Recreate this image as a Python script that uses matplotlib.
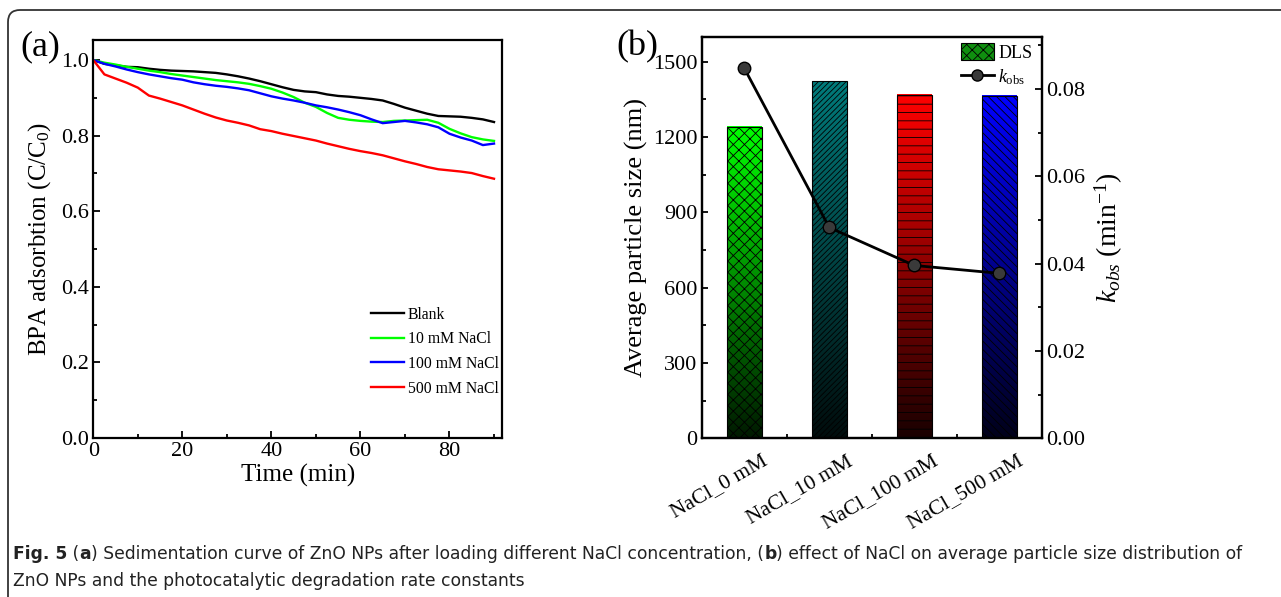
import numpy as np
import matplotlib.pyplot as plt
from matplotlib.ticker import MultipleLocator
from matplotlib.patches import Patch, FancyBboxPatch
from matplotlib.lines import Line2D
from matplotlib.transforms import IdentityTransform
from matplotlib.colors import to_rgb

plt.rcParams['font.family'] = ['Liberation Serif', 'DejaVu Serif']
plt.rcParams['mathtext.fontset'] = 'custom'
plt.rcParams['mathtext.rm'] = 'Liberation Serif'
plt.rcParams['mathtext.it'] = 'Liberation Serif:italic'
plt.rcParams['hatch.linewidth'] = 0.6

# ---- panel (a): sedimentation curves ----
time_min = [0, 2.5, 5, 7.5, 10, 12.5, 15, 17.5, 20, 22.5, 25, 27.5, 30, 32.5,
            35, 37.5, 40, 42.5, 45, 47.5, 50, 52.5, 55, 57.5, 60, 62.5, 65,
            67.5, 70, 72.5, 75, 77.5, 80, 82.5, 85, 87.5, 90]
blank = [1.000, 0.990, 0.986, 0.982, 0.981, 0.977, 0.974, 0.972, 0.971, 0.970,
         0.968, 0.966, 0.962, 0.957, 0.951, 0.944, 0.936, 0.928, 0.921, 0.917,
         0.915, 0.909, 0.905, 0.903, 0.900, 0.897, 0.893, 0.884, 0.874, 0.866,
         0.858, 0.852, 0.851, 0.850, 0.847, 0.843, 0.836]
nacl_10 = [1.000, 0.993, 0.988, 0.982, 0.977, 0.972, 0.968, 0.963, 0.959, 0.955,
           0.951, 0.947, 0.944, 0.941, 0.937, 0.931, 0.924, 0.914, 0.902, 0.887,
           0.876, 0.860, 0.847, 0.842, 0.839, 0.837, 0.836, 0.839, 0.840, 0.841,
           0.842, 0.834, 0.818, 0.806, 0.796, 0.790, 0.786]
nacl_100 = [1.000, 0.990, 0.983, 0.975, 0.968, 0.962, 0.957, 0.952, 0.948, 0.941,
            0.936, 0.932, 0.929, 0.925, 0.920, 0.912, 0.904, 0.898, 0.893, 0.887,
            0.880, 0.875, 0.869, 0.862, 0.854, 0.843, 0.833, 0.836, 0.839, 0.835,
            0.830, 0.822, 0.805, 0.795, 0.787, 0.775, 0.779]
nacl_500 = [1.000, 0.962, 0.951, 0.940, 0.927, 0.906, 0.898, 0.889, 0.880, 0.869,
            0.858, 0.848, 0.840, 0.834, 0.827, 0.817, 0.812, 0.805, 0.799, 0.793,
            0.787, 0.779, 0.772, 0.765, 0.759, 0.754, 0.748, 0.740, 0.732, 0.725,
            0.717, 0.711, 0.708, 0.705, 0.701, 0.693, 0.686]

# ---- panel (b): particle size and rate constants ----
samples = ['NaCl_0 mM', 'NaCl_10 mM', 'NaCl_100 mM', 'NaCl_500 mM']
particle_size = [1240, 1422, 1367, 1363]
k_obs = [0.0848, 0.0483, 0.0396, 0.0378]
bar_colors = ['#00ff00', '#007b7b', '#ff0000', '#0000ff']
bar_hatches = ['xxx', '//////', '--', '\\\\\\\\']

fig = plt.figure(figsize=(12.81, 5.97), dpi=100)

# rounded frame (top + left only visible)
frame = FancyBboxPatch((8, -50), 1400, 597 - 10 + 50,
                       boxstyle='round,pad=0,rounding_size=12',
                       transform=IdentityTransform(), fill=False,
                       edgecolor='#333333', linewidth=1.3)
fig.add_artist(frame)

tick_kw = dict(direction='in', width=1.3)

# ---------- (a) ----------
ax1 = fig.add_axes([0.0728, 0.2663, 0.3191, 0.6667])
ax1.plot(time_min, blank, color='black', lw=1.7, label='Blank')
ax1.plot(time_min, nacl_10, color='#00ff00', lw=1.7, label='10 mM NaCl')
ax1.plot(time_min, nacl_100, color='#0000ff', lw=1.7, label='100 mM NaCl')
ax1.plot(time_min, nacl_500, color='#ff0000', lw=1.7, label='500 mM NaCl')
ax1.set_xlim(0, 91.8)
ax1.set_ylim(0, 1.053)
ax1.xaxis.set_major_locator(MultipleLocator(20))
ax1.xaxis.set_minor_locator(MultipleLocator(10))
ax1.yaxis.set_major_locator(MultipleLocator(0.2))
ax1.yaxis.set_minor_locator(MultipleLocator(0.1))
ax1.yaxis.set_major_formatter(plt.FormatStrFormatter('%.1f'))
ax1.tick_params(which='major', length=5, labelsize=16, pad=3, **tick_kw)
ax1.tick_params(which='minor', length=3, **tick_kw)
ax1.set_xlabel('Time (min)', fontsize=18, labelpad=2)
ax1.set_ylabel('BPA adsorbtion (C/C$_0$)', fontsize=18, labelpad=6)
for s in ax1.spines.values():
    s.set_linewidth(1.6)
ax1.legend(loc='upper left', bbox_to_anchor=(0.679, 0.33), frameon=False,
           fontsize=11.3, handlelength=2.1, handletextpad=0.25,
           labelspacing=0.55, borderpad=0, borderaxespad=0)

# ---------- (b) ----------
ax2 = fig.add_axes([0.5478, 0.2658, 0.2654, 0.6727])
x = np.arange(len(samples))
bar_w = 0.41
bars = ax2.bar(x, particle_size, width=bar_w, facecolor='none',
               edgecolor='black', linewidth=0.8, zorder=3)
for rect, col, hatch in zip(bars, bar_colors, bar_hatches):
    rgb = np.array(to_rgb(col))
    f = np.linspace(0.1, 1.0, 256)[:, None, None]
    grad = f * rgb[None, None, :]
    x0 = rect.get_x()
    ax2.imshow(grad, extent=(x0, x0 + rect.get_width(), 0, rect.get_height()),
               origin='lower', aspect='auto', zorder=2, interpolation='bilinear')
    rect.set_hatch(hatch)
ax2.set_xlim(-0.5, 3.5)
ax2.set_ylim(0, 1600)
ax2.set_aspect('auto')
ax2.yaxis.set_major_locator(MultipleLocator(300))
ax2.yaxis.set_minor_locator(MultipleLocator(150))
ax2.set_xticks(x)
ax2.set_xticks(x[:-1] + 0.5, minor=True)
ax2.set_xticklabels([])
# rotated category labels, shifted right of their ticks as in the original
for xi, name in zip(x, samples):
    ax2.annotate(name, xy=(xi, 0), xycoords=('data', 'axes fraction'),
                 xytext=(12.5, -9.5), textcoords='offset points',
                 rotation=30, ha='right', va='top', rotation_mode='anchor',
                 fontsize=15.5, annotation_clip=False)
ax2.tick_params(which='major', length=4, labelsize=16, pad=3, **tick_kw)
ax2.tick_params(which='minor', length=3, **tick_kw)
ax2.set_ylabel('Average particle size (nm)', fontsize=19, labelpad=4)
for s in ax2.spines.values():
    s.set_linewidth(1.6)

ax3 = ax2.twinx()
ax3.plot(x, k_obs, color='black', lw=2, marker='o', markersize=9,
         markerfacecolor='#3a3a3a', markeredgecolor='black', zorder=5)
ax3.set_ylim(0, 0.092)
ax3.yaxis.set_major_locator(MultipleLocator(0.02))
ax3.yaxis.set_minor_locator(MultipleLocator(0.01))
ax3.yaxis.set_major_formatter(plt.FormatStrFormatter('%.2f'))
ax3.tick_params(which='major', length=5, labelsize=16, pad=3, **tick_kw)
ax3.tick_params(which='minor', length=3, **tick_kw)
ax3.set_ylabel('$k_{obs}$ (min$^{-1}$)', fontsize=20, labelpad=6)
for s in ax3.spines.values():
    s.set_linewidth(1.6)

handles = [Patch(facecolor='#0f8f0f', edgecolor='black', hatch='xxx', linewidth=0.8),
           Line2D([], [], color='black', lw=2, marker='o', markersize=8,
                  markerfacecolor='#3a3a3a', markeredgecolor='black')]
ax3.legend(handles, ['DLS', r'$k_{\mathrm{obs}}$'], loc='upper left',
           bbox_to_anchor=(0.763, 0.984), frameon=False, fontsize=13,
           handlelength=1.8, handleheight=1.1, handletextpad=0.25,
           labelspacing=0.3, borderpad=0, borderaxespad=0)

# panel letters
fig.text(20 / 1281, 1 - 47 / 597, '(a)', fontsize=26, va='center', ha='left')
fig.text(616 / 1281, 1 - 47 / 597, '(b)', fontsize=26, va='center', ha='left')

# caption with mixed bold pieces
cap_font = ['DejaVu Sans']
cap_size = 12.3
pieces1 = [('Fig. 5', 'bold'), (' (', 'normal'), ('a', 'bold'),
           (') Sedimentation curve of ZnO NPs after loading different NaCl concentration, (', 'normal'),
           ('b', 'bold'),
           (') effect of NaCl on average particle size distribution of', 'normal')]
prev = fig.text(13 / 1281, 1 - 563 / 597, pieces1[0][0], fontsize=cap_size,
                fontweight=pieces1[0][1], family=cap_font, color='#222222',
                va='bottom', ha='left')
for txt, wt in pieces1[1:]:
    prev = plt.annotate(txt, xy=(1, 0), xycoords=prev, va='bottom', ha='left',
                        fontsize=cap_size, fontweight=wt, family=cap_font,
                        color='#222222', annotation_clip=False)
fig.text(13 / 1281, 1 - 590 / 597,
         'ZnO NPs and the photocatalytic degradation rate constants',
         fontsize=cap_size, family=cap_font, color='#222222', va='bottom', ha='left')

fig.savefig('out.png', dpi=100)
